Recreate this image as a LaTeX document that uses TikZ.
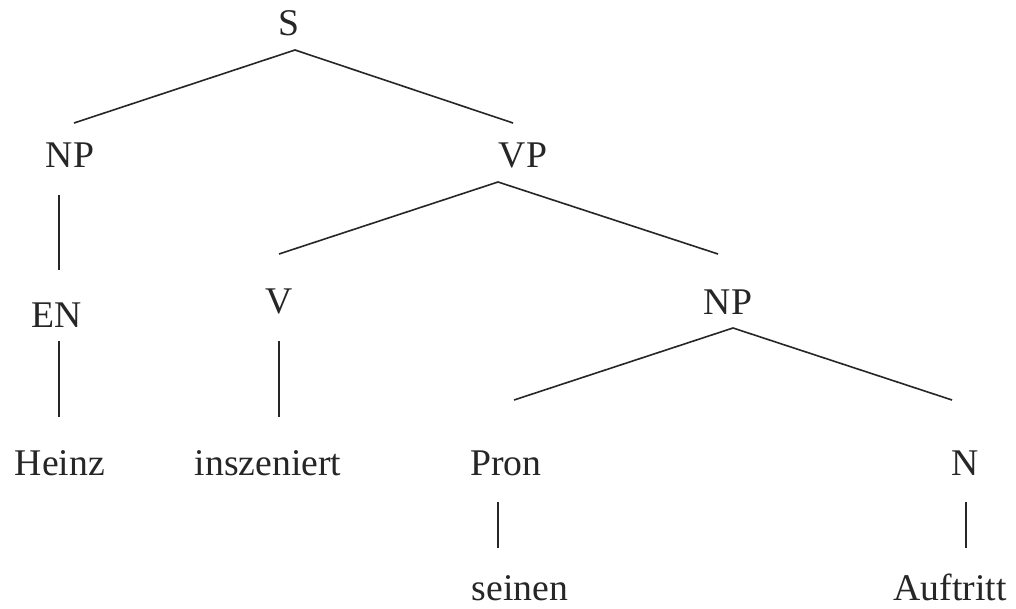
\documentclass[tikz,border=0pt]{standalone}
\usepackage{fontspec}
\setmainfont{Liberation Serif}
\begin{document}
\begin{tikzpicture}[x=1pt,y=-1pt,
  lbl/.style={anchor=base,inner sep=0pt,font=\fontsize{37.7}{45}\selectfont,text=black!85},
  edge/.style={draw=black!85,line width=1.6pt}]
\path[use as bounding box,fill=white] (0,0) rectangle (1016,609);

% category and word labels (x = centre, y = baseline)
\node[lbl] (S)     at (289,36)  {S};
\node[lbl] (NPa)   at (70,168)  {NP};
\node[lbl] (VP)    at (523,168) {VP};
\node[lbl] (EN)    at (57,327)  {EN};
\node[lbl] (V)     at (279,313) {V};
\node[lbl] (NPb)   at (728,314) {NP};
\node[lbl] (Heinz) at (60,475)  {Heinz};
\node[lbl] (insz)  at (268,475) {inszeniert};
\node[lbl] (Pron)  at (506,475) {Pron};
\node[lbl] (N)     at (965,475) {N};
\node[lbl] (sein)  at (520,600) {seinen};
\node[lbl] (Auf)   at (950,600) {Auftritt};

% branch end points
\coordinate (S-b)    at (295,50);
\coordinate (NPa-t)  at (74,123);
\coordinate (VP-t)   at (513,123);
\coordinate (NPa-b)  at (59,195);
\coordinate (EN-t)   at (59,270);
\coordinate (VP-b)   at (498,182);
\coordinate (V-t)    at (279,254);
\coordinate (NPb-t)  at (718,254);
\coordinate (EN-b)   at (59,341);
\coordinate (Heinz-t) at (59,417);
\coordinate (V-b)    at (279,341);
\coordinate (insz-t) at (279,417);
\coordinate (NPb-b)  at (733,328);
\coordinate (Pron-t) at (514,400);
\coordinate (N-t)    at (952,400);
\coordinate (Pron-b) at (498,502);
\coordinate (sein-t) at (498,548);
\coordinate (N-b)    at (966,502);
\coordinate (Auf-t)  at (966,548);

% branches
\draw[edge] (NPa-t) -- (S-b) -- (VP-t);
\draw[edge] (NPa-b) -- (EN-t);
\draw[edge] (V-t) -- (VP-b) -- (NPb-t);
\draw[edge] (EN-b) -- (Heinz-t);
\draw[edge] (V-b) -- (insz-t);
\draw[edge] (Pron-t) -- (NPb-b) -- (N-t);
\draw[edge] (Pron-b) -- (sein-t);
\draw[edge] (N-b) -- (Auf-t);
\end{tikzpicture}
\end{document}
